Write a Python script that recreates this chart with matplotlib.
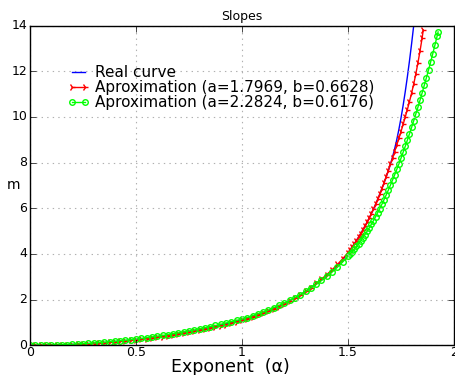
import matplotlib
matplotlib.use("Agg")
import numpy as np
import matplotlib.pyplot as plt

plt.style.use("classic")

# exponent grid for the flat part of the curves
alpha_low = [
    0.000, 0.025, 0.050, 0.075, 0.100, 0.125, 0.150, 0.175, 0.200, 0.225,
    0.250, 0.275, 0.300, 0.325, 0.350, 0.375, 0.400, 0.425, 0.450, 0.475,
    0.500, 0.525, 0.550, 0.575, 0.600, 0.625, 0.650, 0.675, 0.700, 0.725,
    0.750, 0.775, 0.800, 0.825, 0.850, 0.875, 0.900, 0.925, 0.950, 0.975,
    1.000, 1.025, 1.050, 1.075, 1.100, 1.125, 1.150, 1.175, 1.200, 1.225,
    1.250, 1.275, 1.300, 1.325, 1.350, 1.375, 1.400, 1.425, 1.450, 1.475,
    1.500,
]

m_real_low = [
    0.000, 0.001, 0.003, 0.006, 0.010, 0.016, 0.023, 0.031, 0.040, 0.051,
    0.063, 0.077, 0.091, 0.107, 0.125, 0.144, 0.164, 0.186, 0.209, 0.234,
    0.260, 0.287, 0.316, 0.346, 0.378, 0.411, 0.446, 0.482, 0.520, 0.560,
    0.601, 0.645, 0.690, 0.737, 0.787, 0.838, 0.892, 0.948, 1.005, 1.062,
    1.12, 1.19, 1.27, 1.35, 1.43, 1.52, 1.62, 1.72, 1.83, 1.95,
    2.07, 2.21, 2.36, 2.52, 2.69, 2.87, 3.06, 3.27, 3.50, 3.75,
    4.03,
]

m_fit1_low = [
    0.000, 0.001, 0.002, 0.005, 0.008, 0.013, 0.019, 0.026, 0.034, 0.044,
    0.055, 0.068, 0.081, 0.096, 0.113, 0.131, 0.150, 0.171, 0.193, 0.217,
    0.242, 0.268, 0.296, 0.325, 0.356, 0.388, 0.422, 0.457, 0.494, 0.533,
    0.573, 0.616, 0.660, 0.706, 0.755, 0.805, 0.858, 0.913, 0.970, 1.027,
    1.09, 1.16, 1.24, 1.32, 1.40, 1.49, 1.59, 1.69, 1.81, 1.93,
    2.06, 2.20, 2.36, 2.53, 2.71, 2.90, 3.10, 3.31, 3.54, 3.79,
    4.06,
]

m_fit2_low = [
    0.000, 0.002, 0.005, 0.009, 0.014, 0.020, 0.028, 0.037, 0.047, 0.059,
    0.072, 0.087, 0.102, 0.119, 0.138, 0.158, 0.179, 0.202, 0.226, 0.252,
    0.279, 0.307, 0.337, 0.368, 0.401, 0.435, 0.471, 0.508, 0.547, 0.588,
    0.630, 0.674, 0.720, 0.768, 0.818, 0.870, 0.924, 0.981, 1.039, 1.097,
    1.15, 1.22, 1.30, 1.38, 1.46, 1.55, 1.65, 1.75, 1.86, 1.97,
    2.09, 2.22, 2.36, 2.51, 2.67, 2.84, 3.02, 3.21, 3.42, 3.65,
    3.90,
]

# steep part, sampled finer
alpha_real_tail = [
    1.51, 1.52, 1.53, 1.54, 1.55, 1.56, 1.57, 1.58, 1.59, 1.60,
    1.61, 1.62, 1.63, 1.64, 1.65, 1.66, 1.67, 1.68, 1.69, 1.70,
    1.71, 1.72, 1.73, 1.74, 1.75, 1.76, 1.77, 1.78, 1.79, 1.80,
    1.81, 1.82,
]
m_real_tail = [
    4.18, 4.31, 4.45, 4.59, 4.74, 4.89, 5.05, 5.22, 5.39, 5.57,
    5.76, 5.96, 6.17, 6.39, 6.62, 6.86, 7.11, 7.37, 7.64, 7.92,
    8.24, 8.60, 9.00, 9.45, 9.95, 10.50, 11.10, 11.75, 12.45, 13.20,
    14.00, 14.85,
]

alpha_fit1_tail = [
    1.51, 1.52, 1.53, 1.54, 1.55, 1.56, 1.57, 1.58, 1.59, 1.60,
    1.61, 1.62, 1.63, 1.64, 1.65, 1.66, 1.67, 1.68, 1.69, 1.70,
    1.71, 1.72, 1.73, 1.74, 1.75, 1.76, 1.77, 1.78, 1.79, 1.80,
    1.81, 1.82, 1.83, 1.84, 1.85, 1.855,
]
m_fit1_tail = [
    4.18, 4.31, 4.45, 4.59, 4.74, 4.89, 5.05, 5.22, 5.39, 5.57,
    5.76, 5.96, 6.17, 6.39, 6.62, 6.86, 7.11, 7.37, 7.64, 7.92,
    8.20, 8.48, 8.77, 9.06, 9.36, 9.67, 9.99, 10.32, 10.67, 11.04,
    11.44, 11.88, 12.37, 12.90, 13.47, 13.80,
]

alpha_fit2_tail = [
    1.51, 1.52, 1.53, 1.54, 1.55, 1.56, 1.57, 1.58, 1.59, 1.60,
    1.61, 1.62, 1.63, 1.64, 1.65, 1.66, 1.67, 1.68, 1.69, 1.70,
    1.71, 1.72, 1.73, 1.74, 1.75, 1.76, 1.77, 1.78, 1.79, 1.80,
    1.81, 1.82, 1.83, 1.84, 1.85, 1.86, 1.87, 1.88, 1.89, 1.90,
    1.91, 1.92, 1.925,
]
m_fit2_tail = [
    4.00, 4.10, 4.21, 4.33, 4.45, 4.58, 4.71, 4.85, 4.99, 5.14,
    5.30, 5.46, 5.63, 5.81, 5.99, 6.18, 6.38, 6.58, 6.79, 7.01,
    7.23, 7.46, 7.70, 7.94, 8.19, 8.45, 8.71, 8.98, 9.26, 9.54,
    9.83, 10.13, 10.43, 10.74, 11.06, 11.39, 11.72, 12.06, 12.41, 12.77,
    13.14, 13.52, 13.72,
]

fit1 = (1.7969, 0.6628)
fit2 = (2.2824, 0.6176)

fig = plt.figure(figsize=(4.56, 3.75), dpi=100, facecolor="white")
ax = fig.add_axes([0.0658, 0.079, 0.9298, 0.853])

ax.plot(alpha_low + alpha_real_tail, m_real_low + m_real_tail,
        color="blue", linewidth=1, label="Real curve")
ax.plot(alpha_low + alpha_fit1_tail, m_fit1_low + m_fit1_tail,
        color="red", linewidth=1, marker="4", markersize=5,
        markeredgewidth=1, markeredgecolor="red",
        label="Aproximation (a=%.4f, b=%.4f)" % fit1)
ax.plot(alpha_low + alpha_fit2_tail, m_fit2_low + m_fit2_tail,
        color="#00ff00", linewidth=1, marker="o", markersize=4,
        markerfacecolor="none", markeredgewidth=1, markeredgecolor="#00ff00",
        label="Aproximation (a=%.4f, b=%.4f)" % fit2)

ax.set_xlim(0, 2)
ax.set_ylim(0, 14)
ax.set_xticks([0, 0.5, 1, 1.5, 2])
ax.set_xticklabels(["0", "0.5", "1", "1.5", "2"])
ax.set_yticks(range(0, 15, 2))
ax.tick_params(axis="y", labelsize=9, pad=2)
ax.tick_params(axis="x", labelsize=9, pad=0.5)
ax.grid(True, color="#b0b0b0", linestyle=":", linewidth=0.8)
for spine in ax.spines.values():
    spine.set_zorder(3)

ax.set_title("Slopes", fontsize=9, pad=4)
ax.set_xlabel("Exponent  (\u03b1)", fontsize=12.5)
ax.xaxis.set_label_coords(0.472, -0.041)
ax.set_ylabel("m", fontsize=10, rotation=0, va="center", ha="center")
ax.yaxis.set_label_coords(-0.04, 0.5)

ax.legend(loc="upper left", bbox_to_anchor=(0.075, 0.896), frameon=False,
          fontsize=11, numpoints=2, handlelength=1.4, handletextpad=0.35,
          labelspacing=0.0, borderaxespad=0)

fig.savefig("out.png", dpi=100, facecolor="white")
